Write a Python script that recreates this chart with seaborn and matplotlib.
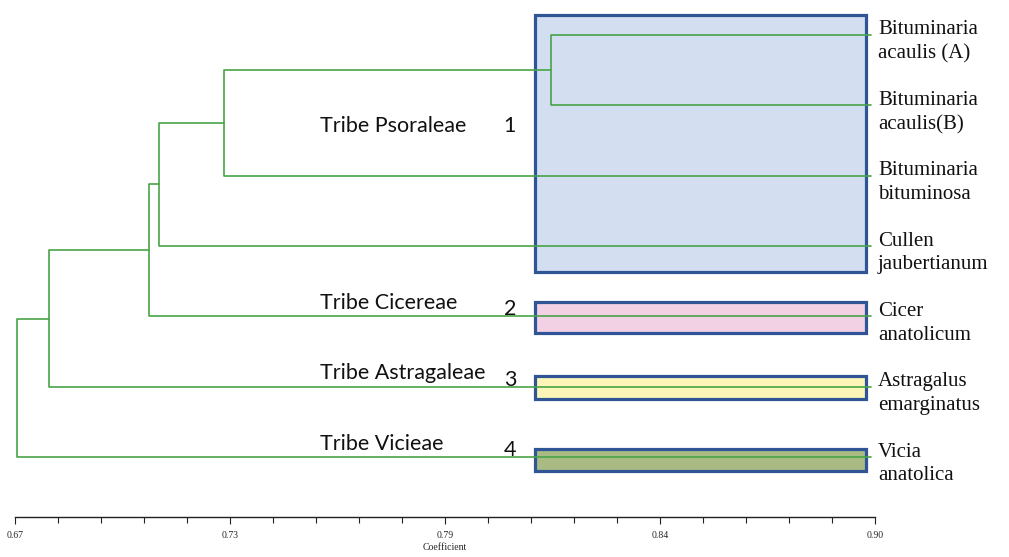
import numpy as np
import pandas as pd
import seaborn as sns
import matplotlib.pyplot as plt
from matplotlib.patches import Rectangle

# leaves from top to bottom
leaf_names = ["Bituminaria\nacaulis (A)", "Bituminaria\nacaulis(B)", "Bituminaria\nbituminosa",
              "Cullen\njaubertianum", "Cicer\nanatolicum", "Astragalus\nemarginatus", "Vicia\nanatolica"]
leaf_coef = 0.899

# merges: (child a, child b) -> new node id 7, 8, ...
merge_pairs = [(0, 1), (7, 2), (8, 3), (9, 4), (10, 5), (11, 6)]
merge_coef = [0.8133, 0.7259, 0.7085, 0.7058, 0.6791, 0.6705]

# tribe groups (first leaf, last leaf)
tribes = ["Tribe Psoraleae", "Tribe Cicereae", "Tribe Astragaleae", "Tribe Vicieae"]
tribe_nums = ["1", "2", "3", "4"]
tribe_leaves = [(0, 3), (4, 4), (5, 5), (6, 6)]

tick_vals = np.linspace(0.67, 0.90, 5)
tick_labels = ["0.67", "0.73", "0.79", "0.84", "0.90"]

box_fill = ["#d3dff0", "#f1d1e3", "#fbf6b8", "#a9ba82"]
box_pad = [(0.28, 0.37), (0.21, 0.24), (0.15, 0.17), (0.12, 0.2)]
line_col = "#48a448"

sns.set_theme(style="white")

# node positions
xpos = {i: leaf_coef for i in range(len(leaf_names))}
ypos = {i: float(i) for i in range(len(leaf_names))}
rows = []
for k, ((a, b), h) in enumerate(zip(merge_pairs, merge_coef)):
    node = len(leaf_names) + k
    xs = [xpos[a], h, h, xpos[b]]
    ys = [ypos[a], ypos[a], ypos[b], ypos[b]]
    for x, y in zip(xs, ys):
        rows.append({"seg": k, "x": x, "y": y})
    xpos[node] = h
    ypos[node] = (ypos[a] + ypos[b]) / 2
segs = pd.DataFrame(rows)

fig = plt.figure(figsize=(10.09, 5.57), dpi=100)
ax = fig.add_axes([15 / 1009, 40 / 557, 860 / 1009, 517 / 557])

box_x0, box_x1 = 0.8091, 0.8976
for (f, l), col, (pt, pb) in zip(tribe_leaves, box_fill, box_pad):
    ax.add_patch(Rectangle((box_x0, f - pt), box_x1 - box_x0, (l + pb) - (f - pt),
                           facecolor=col, edgecolor="#2f5597", lw=2.3, zorder=1))

sns.lineplot(data=segs, x="x", y="y", units="seg", estimator=None, sort=False,
             color=line_col, lw=1.2, ax=ax, zorder=3, legend=False)

for i, name in enumerate(leaf_names):
    ax.text(0.9008, i + 0.1, name, ha="left", va="center", fontsize=15,
            family="Liberation Serif", linespacing=1.35, clip_on=False, color="#111111")

for (f, l), t, n in zip(tribe_leaves, tribes, tribe_nums):
    if f != l:
        yt = yn = (f + l) / 2 - 0.2
    else:
        yt, yn = f - 0.19, f - 0.1
    ax.text(0.7515, yt, t, ha="left", va="center", fontsize=15.5, family="Lato", color="#111111")
    ax.text(0.8007, yn, n, ha="left", va="center", fontsize=15.5, family="Lato", color="#111111")

ax.set_xlim(0.67, 0.90)
ax.set_ylim(6.853, -0.4977)
ax.set_yticks([])
for s in ["top", "left", "right"]:
    ax.spines[s].set_visible(False)
ax.spines["bottom"].set_color("#222222")
ax.spines["bottom"].set_linewidth(1.0)
ax.set_xticks(tick_vals)
ax.set_xticklabels(tick_labels, family="Liberation Serif", fontsize=7)
ax.set_xticks(np.linspace(0.67, 0.90, 21), minor=True)
ax.tick_params(axis="x", which="major", direction="out", length=5, width=0.8, pad=5, color="#222222", bottom=True)
ax.tick_params(axis="x", which="minor", direction="out", length=4, width=0.8, color="#222222", bottom=True)
ax.set_xlabel("Coefficient", family="Liberation Serif", fontsize=7, labelpad=2)
ax.set_ylabel("")

fig.savefig("out.png", dpi=100)
